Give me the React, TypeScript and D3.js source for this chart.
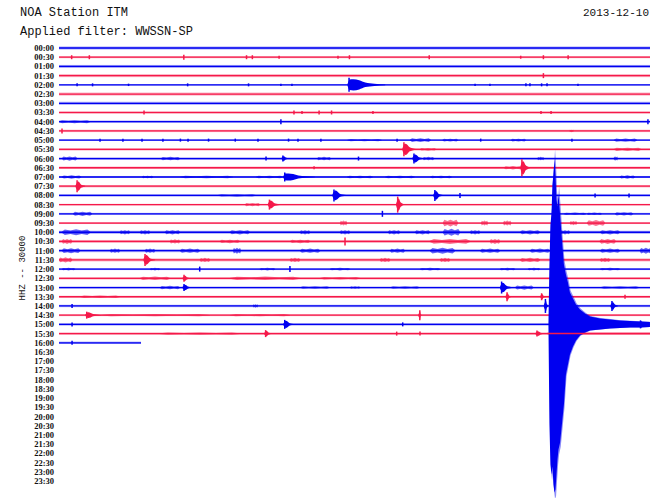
import React from "react";
import * as d3 from "d3";

// ---------- DATA ----------
const stationTitle = "NOA Station ITM";
const filterText = "Applied filter: WWSSN-SP";
const dateText = "2013-12-10";
const channelLabel = "HHZ -- 30000";

const rowLabels = [
  "00:00","00:30","01:00","01:30","02:00","02:30","03:00","03:30",
  "04:00","04:30","05:00","05:30","06:00","06:30","07:00","07:30",
  "08:00","08:30","09:00","09:30","10:00","10:30","11:00","11:30",
  "12:00","12:30","13:00","13:30","14:00","14:30","15:00","15:30",
  "16:00","16:30","17:00","17:30","18:00","18:30","19:00","19:30",
  "20:00","20:30","21:00","21:30","22:00","22:30","23:00","23:30",
];

// background noise half-amplitude per recorded row (kcounts)
const noiseLevel = [
  1.5, 1.0, 1.5, 1.5, 0.7, 1.5, 1.5, 0.7,
  1.2, 1.2, 0.8, 1.2, 1.2, 1.2, 1.0, 1.2,
  1.2, 0.8, 1.0, 1.0, 1.5, 1.5, 1.5, 1.5,
  1.0, 1.2, 1.0, 1.0, 1.2, 1.0, 1.2, 1.2,
  1.2,
];
// minutes recorded in the last (current) row
const lastRowEnd = 4.08;

// discrete events: [row, minute, amplitude, duration(min)]
const events: [number, number, number, number][] = [
  [4, 14.43, 7, 1.8],
  [11, 17.16, 7, 0.6],
  [12, 17.66, 5, 0.5],
  [12, 11.14, 3, 0.3],
  [13, 23.03, 8.5, 0.4],
  [14, 11.23, 4.5, 1.5],
  [15, 0.9, 6, 0.4],
  [16, 13.68, 6, 0.6],
  [16, 18.7, 5.5, 0.4],
  [17, 10.47, 5, 0.5],
  [17, 16.85, 8, 0.3],
  [23, 4.28, 6, 0.5],
  [25, 6.22, 3.5, 0.3],
  [26, 6.22, 3.5, 0.4],
  [26, 22.02, 6, 0.5],
  [27, 22.29, 4.5, 0.2],
  [27, 24.01, 3.5, 0.2],
  [28, 24.2, 7, 0.15],
  [28, 27.51, 5, 0.3],
  [29, 1.38, 3.5, 0.7],
  [29, 17.95, 5, 0.08],
  [30, 11.23, 4.5, 0.5],
  [30, 28.93, 4, 0.3],
  [31, 10.28, 3.5, 0.3],
  [31, 23.78, 3, 0.4],
];

// short spikes: [row, minute, amplitude]
const spikes: [number, number, number][] = [
  [1, 0.63, 2], [1, 1.51, 2], [1, 6.21, 2.5], [1, 9.33, 2], [1, 9.62, 2], [1, 10.95, 1.5],
  [1, 13.88, 1.5], [1, 14.45, 2], [1, 18.42, 2], [1, 22.97, 1.5], [1, 24.1, 2], [1, 25.33, 2],
  [3, 24.1, 2.5],
  [4, 0.9, 1.5], [4, 1.67, 1.5], [4, 3.46, 1.2], [4, 6.4, 1.5], [4, 9.43, 1.5], [4, 11.04, 1.2],
  [4, 11.59, 1.2], [4, 20.7, 1.2], [4, 21.44, 1.2], [4, 23.23, 1.5], [4, 23.43, 1.5],
  [4, 24.01, 1.5], [4, 24.28, 1.5], [4, 25.82, 1.2],
  [7, 4.23, 2], [7, 11.69, 2], [7, 12.09, 1.5], [7, 12.94, 2], [7, 13.56, 2], [7, 15.62, 1.5],
  [7, 23.98, 1.5], [7, 24.48, 1.5],
  [8, 11.04, 2.5], [8, 29.3, 2.5], [9, 0.15, 2.5],
  [10, 2.04, 1.5], [10, 3.18, 1.5], [10, 4.13, 1.5], [10, 5.17, 1.5], [10, 6.04, 1.5],
  [10, 6.42, 1.5], [10, 7.44, 1.5], [10, 8.77, 1.5], [10, 9.9, 1.5], [10, 11.42, 1.5],
  [10, 11.89, 1.5], [10, 13.03, 1.5], [10, 16.82, 1.5], [10, 20.98, 1.5], [10, 25.52, 1.5],
  [12, 10.3, 2], [12, 14.9, 2], [13, 12.69, 1.5],
  [16, 19.95, 2.5], [16, 26.67, 2], [16, 28.36, 2],
  [18, 16.09, 3], [21, 14.23, 4],
  [24, 7.0, 2.5], [24, 11.49, 3],
  [27, 28.16, 2], [28, 0.65, 2],
  [30, 17.1, 2], [30, 0.65, 2],
  [31, 16.8, 2], [31, 17.96, 2], [32, 0.65, 2],
];

// noisy bursts: [row, startMin, endMin, amplitude]
const bursts: [number, number, number, number][] = [
  [8, 0, 1.55, 1.8], [9, 25.4, 25.6, 1.5],
  [10, 14.35, 16.05, 1.4], [10, 17.46, 18.5, 2.2], [10, 19.08, 19.85, 1.6], [10, 22.49, 23.23, 1.6],
  [10, 27.61, 28.76, 2],
  [11, 17.96, 18.76, 1.6], [11, 27.61, 28.96, 2],
  [12, 0.15, 0.9, 2.5], [12, 5.07, 6.02, 2], [12, 12.84, 13.53, 2], [12, 18.1, 18.66, 2],
  [12, 23.8, 24.13, 2], [12, 27.6, 27.8, 2.5],
  [13, 22.14, 23.03, 2],
  [14, 0.15, 1.1, 2], [14, 4.13, 4.68, 1.5], [14, 6.02, 8.66, 1.5], [14, 9.8, 11.14, 1.5],
  [14, 14.33, 15.62, 1.5], [14, 16.22, 17.7, 1.5], [14, 18.46, 19.55, 1.5], [14, 27.9, 28.65, 2],
  [16, 7.9, 9.8, 1.5],
  [17, 9.25, 10.0, 2],
  [18, 0.7, 1.64, 2.5], [18, 25.12, 26.22, 1.5], [18, 26.27, 27.0, 1.5], [18, 27.66, 28.56, 2],
  [19, 13.98, 14.33, 3], [19, 19.1, 19.85, 4], [19, 21.0, 21.34, 3], [19, 22.1, 22.5, 3],
  [19, 25.42, 25.77, 2.5], [19, 26.27, 27.16, 3.5],
  [20, 0.15, 1.55, 3.5], [20, 3.03, 3.53, 2.5], [20, 4.03, 4.53, 2.5], [20, 5.27, 6.02, 2.5],
  [20, 8.5, 9.5, 2.5], [20, 11.99, 12.49, 2.5], [20, 13.98, 14.48, 2.5], [20, 16.37, 16.97, 2.5],
  [20, 17.71, 18.46, 2.5], [20, 19.1, 19.95, 4], [20, 20.45, 20.95, 2.5], [20, 22.94, 23.93, 2.5],
  [20, 24.93, 25.42, 2.5], [20, 26.92, 27.91, 2.5],
  [21, 0.15, 0.65, 3], [21, 5.52, 6.02, 2.5], [21, 18.45, 20.45, 3], [21, 21.44, 21.94, 3],
  [21, 26.9, 27.7, 3], [21, 8.0, 9.0, 2], [21, 11.5, 12.5, 2],
  [22, 0.15, 1.05, 3], [22, 2.54, 3.03, 2.5], [22, 4.28, 4.78, 2.5], [22, 6.02, 7.01, 2.5],
  [22, 8.66, 9.05, 3.5], [22, 11.99, 12.99, 2.5], [22, 16.47, 17.21, 2.5], [22, 18.46, 19.7, 3.5],
  [22, 20.95, 21.94, 2.5], [22, 23.43, 24.43, 2.5], [22, 26.92, 27.91, 2.5], [22, 28.9, 29.5, 3.5],
  [23, 0, 0.65, 3], [23, 7.01, 7.51, 2.5], [23, 11.49, 11.99, 2.5], [23, 15.97, 16.47, 2.5],
  [23, 18.96, 19.45, 2.5], [23, 22.94, 23.93, 2.5], [23, 26.92, 27.41, 2.5],
  [24, 0.15, 0.8, 1.5], [24, 4.53, 5.02, 1.5], [24, 9.99, 10.75, 1.5], [24, 13.48, 14.48, 1.5],
  [24, 17.96, 18.96, 1.5], [24, 21.94, 22.69, 1.5], [24, 23.33, 23.93, 1.5], [24, 26.92, 27.91, 1.5],
  [25, 4.03, 5.52, 2], [25, 8.5, 12.0, 2], [25, 12.99, 14.98, 1.5],
  [26, 5.02, 6.02, 2], [26, 11.99, 13.48, 1.5], [26, 14.48, 14.98, 1.5], [26, 16.47, 17.96, 1.5],
  [26, 22.7, 23.6, 2.5], [26, 26.92, 28.9, 1.5],
  [27, 1.05, 3.03, 1.5],
  [28, 9.65, 9.9, 2],
  [29, 2.04, 7.51, 1.4], [29, 8.5, 11.49, 1.4],
  [31, 5.02, 8.99, 1.4],
];

// main earthquake on the 15:00 line: envelope [minute], up / down amplitude (kcounts)
const quakeMin = [
  24.35, 24.40, 24.45, 24.50, 24.55, 24.60, 24.65, 24.70, 24.75, 24.80, 24.85, 24.93,
  25.02, 25.12, 25.22, 25.32, 25.42, 25.57, 25.72, 25.92, 26.17, 26.42, 26.92, 27.41,
  27.91, 28.41, 28.91, 29.40,
];
const quakeUp = [
  0, 60, 100, 110, 140, 150, 165, 150, 125, 118, 130, 110,
  85, 60, 50, 42, 32, 26, 20, 15, 11, 8, 6, 5,
  4, 3.5, 3, 2.5,
];
const quakeDown = [
  0, 100, 140, 150, 142, 160, 168, 165, 150, 135, 125, 118,
  100, 80, 50, 40, 30, 22, 16, 11, 8, 6, 5, 4,
  3.5, 3, 3, 2.5,
];
const quakeRow = 30;

// ---------- CHART ----------
const W = 650;
const H = 498;
const BLUE = "#0000f0";
const RED = "#f5194a";

export default function App() {
  const x = d3.scaleLinear().domain([0, 30]).range([59, 662]);
  const y = d3.scaleLinear().domain([0, 47]).range([48, 481]);
  const amp = d3.scaleLinear().domain([0, 100]).range([0, 100]);
  const colorOf = (r: number) => (r % 2 === 0 ? BLUE : RED);

  const area = d3
    .area<[number, number, number]>()
    .x((d) => x(d[0]))
    .y0((d) => d[1])
    .y1((d) => d[2])
    .curve(d3.curveLinear);
  const smoothArea = d3
    .area<[number, number, number]>()
    .x((d) => x(d[0]))
    .y0((d) => d[1])
    .y1((d) => d[2])
    .curve(d3.curveMonotoneX);

  // spindle glyph for an event
  const eventPath = (row: number, t: number, a: number, dur: number) => {
    const y0 = y(row);
    const shape: [number, number][] = [
      [t - 0.08, 0.1],
      [t - 0.02, 0.55],
      [t + 0.03, 0.75],
      [t + 0.12 * dur, 0.8],
      [t + 0.28 * dur, 0.65],
      [t + 0.45 * dur, 0.32],
      [t + 0.7 * dur, 0.16],
      [t + dur, 0.06],
    ];
    return smoothArea(shape.map(([m, f]) => [m, y0 - amp(a * f), y0 + amp(a * f)]));
  };

  // noise cluster glyph
  const burstPath = (row: number, s: number, e: number, a: number) => {
    const y0 = y(row);
    const len = e - s;
    const shape: [number, number][] = [
      [s, 0.2],
      [s + len * 0.1, 0.8],
      [s + len * 0.3, 0.5],
      [s + len * 0.5, 0.85],
      [s + len * 0.7, 0.5],
      [s + len * 0.9, 0.8],
      [e, 0.2],
    ];
    return area(shape.map(([m, f]) => [m, y0 - amp(a * f), y0 + amp(a * f)]));
  };

  const quakeData: [number, number, number][] = quakeMin.map((m, i) => [
    m,
    y(quakeRow) - amp(quakeUp[i]),
    y(quakeRow) + amp(quakeDown[i]),
  ]);
  const quakeHalo: [number, number, number][] = quakeMin.map((m, i) => [
    m + 0.03,
    y(quakeRow) - amp(quakeUp[i] * 1.06),
    y(quakeRow) + amp(quakeDown[i] * 1.04),
  ]);

  return (
    <svg
      width={W}
      height={H}
      style={{ position: "absolute", left: 0, top: 0, background: "#fff" }}
    >
      <rect width={W} height={H} fill="#fff" />
      <g fontFamily="'Liberation Mono', monospace" fontSize={12} fill="#111">
        <text x={20} y={16}>{stationTitle}</text>
        <text x={20} y={35}>{filterText}</text>
      </g>
      <text
        x={649}
        y={16}
        textAnchor="end"
        fontFamily="'Liberation Mono', monospace"
        fontSize={11}
        fill="#111"
      >
        {dateText}
      </text>
      <text
        transform={`translate(25, 268) rotate(-90)`}
        textAnchor="middle"
        fontFamily="'Liberation Mono', monospace"
        fontSize={9}
        fill="#111"
      >
        {channelLabel}
      </text>
      <g fontFamily="'Liberation Serif', serif" fontSize={8.5} fontWeight="bold" fill="#111">
        {rowLabels.map((lab, i) => (
          <text key={lab} x={54} y={y(i) + 3} textAnchor="end">
            {lab}
          </text>
        ))}
      </g>
      {/* baselines */}
      {noiseLevel.map((n, r) => {
        const end = r === noiseLevel.length - 1 ? lastRowEnd : 30;
        return (
          <g key={"b" + r}>
            <rect
              x={x(0)}
              width={x(end) - x(0)}
              y={y(r) - amp(n)}
              height={2 * amp(n)}
              fill={colorOf(r)}
              opacity={0.35}
            />
            <line
              x1={x(0)}
              x2={x(end)}
              y1={y(r)}
              y2={y(r)}
              stroke={colorOf(r)}
              strokeWidth={1.3}
            />
          </g>
        );
      })}
      {/* bursts */}
      {bursts.map(([r, s, e, a], i) => (
        <path key={"u" + i} d={burstPath(r, s, e, a) || ""} fill={colorOf(r)} opacity={0.6} />
      ))}
      {/* spikes */}
      {spikes.map(([r, t, a], i) => (
        <line
          key={"s" + i}
          x1={x(t)}
          x2={x(t)}
          y1={y(r) - amp(a)}
          y2={y(r) + amp(a)}
          stroke={colorOf(r)}
          strokeWidth={1.5}
        />
      ))}
      {/* events */}
      {events.map(([r, t, a, dur], i) => (
        <g key={"e" + i}>
          <path d={eventPath(r, t, a, dur) || ""} fill={colorOf(r)} />
          <line
            x1={x(t)}
            x2={x(t)}
            y1={y(r) - amp(a)}
            y2={y(r) + amp(a)}
            stroke={colorOf(r)}
            strokeWidth={1.5}
          />
        </g>
      ))}
      {/* main quake */}
      <path d={area(quakeHalo) || ""} fill={BLUE} opacity={0.45} />
      <path d={area(quakeData) || ""} fill={BLUE} />
      {/* 15:30 trace passes over the quake */}
      <line
        x1={x(24.3)}
        x2={x(30)}
        y1={y(31)}
        y2={y(31)}
        stroke={RED}
        strokeWidth={1.5}
      />
    </svg>
  );
}
